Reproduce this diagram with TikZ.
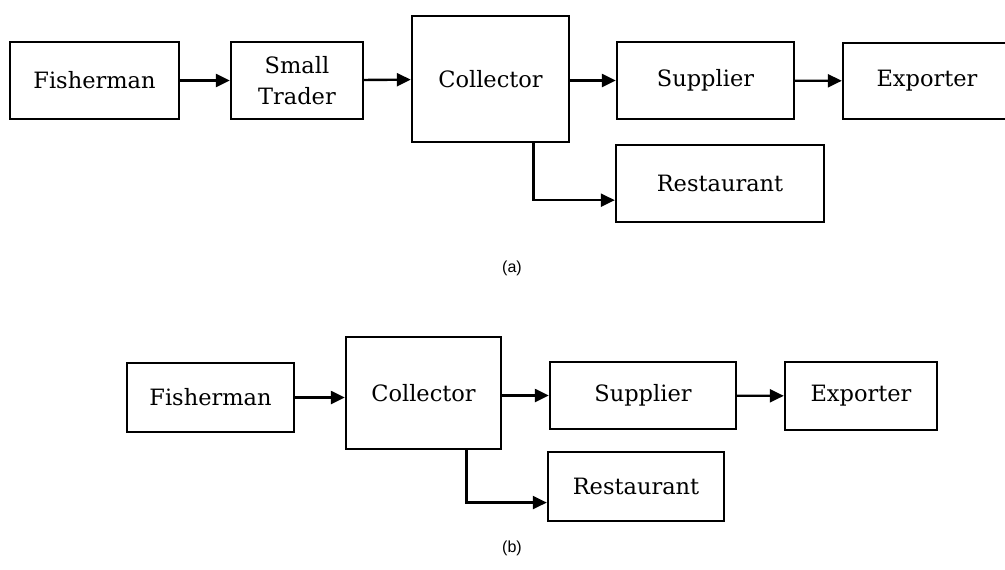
\documentclass[tikz,border=0pt]{standalone}
\usepackage{fontspec}
\setmainfont{DejaVu Serif}
\newfontfamily\labfont{Liberation Sans}
\usetikzlibrary{arrows.meta,calc}
\begin{document}
\begin{tikzpicture}[x=1pt,y=-1pt,
  box/.style={draw,line width=2.4pt,inner sep=0pt,align=center,font=\fontsize{22.5}{31}\selectfont},
  arr/.style={line width=2.4pt,-{Triangle[length=14pt,width=13pt]}},
  sublabel/.style={font=\labfont\fontsize{16}{18}\selectfont}]
\useasboundingbox (0,0) rectangle (1005,570);
\clip (0,0) rectangle (1005,570);
% (a)
\node[box,minimum width=169pt,minimum height=77pt] (fishA) at (94.5,80.5) {Fisherman};
\node[box,minimum width=132pt,minimum height=77pt] (tradA) at (297,80.5) {Small\\Trader};
\node[box,minimum width=157pt,minimum height=126pt] (colA) at (490.5,79) {Collector};
\node[box,minimum width=177pt,minimum height=77pt] (supA) at (705.5,80.5) {Supplier};
\node[box,minimum width=168pt,minimum height=76pt] (expA) at (927,81) {Exporter};
\node[box,minimum width=208pt,minimum height=77pt] (resA) at (720,183.5) {Restaurant};
\draw[arr] (fishA) -- (tradA);
\draw[arr] (tradA) -- (colA);
\draw[arr] (colA.east |- supA.west) -- (supA.west);
\draw[arr] (supA) -- (expA);
\draw[arr] ($(colA.south west)!0.77!(colA.south east)$) |- ($(resA.south west)!0.29!(resA.north west)$);
\node[sublabel] (capA) at (512,268) {(a)};
% (b)
\node[box,minimum width=167pt,minimum height=69pt] (fishB) at (210.5,397.5) {Fisherman};
\node[box,minimum width=155pt,minimum height=112pt] (colB) at (423.5,393) {Collector};
\node[box,minimum width=186pt,minimum height=67pt] (supB) at (643,395.5) {Supplier};
\node[box,minimum width=152pt,minimum height=68pt] (expB) at (861,396) {Exporter};
\node[box,minimum width=176pt,minimum height=69pt] (resB) at (636,486.5) {Restaurant};
\draw[arr] (fishB.east) -- (fishB.east -| colB.west);
\draw[arr] (colB.east |- supB.west) -- (supB.west);
\draw[arr] (supB) -- (expB);
\draw[arr] ($(colB.south west)!0.774!(colB.south east)$) |- ($(resB.south west)!0.275!(resB.north west)$);
\node[sublabel] (capB) at (512,548) {(b)};
\end{tikzpicture}
\end{document}
